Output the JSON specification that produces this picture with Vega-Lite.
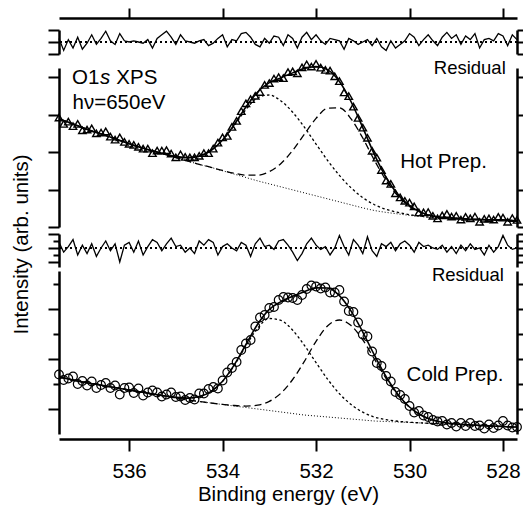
{
"$schema":"https://vega.github.io/schema/vega-lite/v6.json",
"padding":{"left":10,"top":7,"right":0,"bottom":0},
"background":"white",
"config":{"font":"Liberation Sans","view":{"stroke":null},
 "text":{"font":"Liberation Sans","color":"black"},
 "axis":{"domainColor":"black","tickColor":"black","labelColor":"black","titleColor":"black","grid":false,"domainWidth":2.5,"tickWidth":2,"labelFont":"Liberation Sans","titleFont":"Liberation Sans","titleFontWeight":"normal"}},
"datasets":{
"hotCurves":[
{"E":537.5,"bg":2.88,"c1":2.88,"c2":2.88,"fit":2.88},
{"E":537.25,"bg":2.77,"c1":2.77,"c2":2.77,"fit":2.77},
{"E":537.0,"bg":2.65,"c1":2.65,"c2":2.65,"fit":2.65},
{"E":536.75,"bg":2.54,"c1":2.54,"c2":2.54,"fit":2.54},
{"E":536.5,"bg":2.44,"c1":2.44,"c2":2.44,"fit":2.44},
{"E":536.25,"bg":2.33,"c1":2.33,"c2":2.33,"fit":2.33},
{"E":536.0,"bg":2.22,"c1":2.22,"c2":2.22,"fit":2.22},
{"E":535.75,"bg":2.12,"c1":2.12,"c2":2.12,"fit":2.12},
{"E":535.5,"bg":2.03,"c1":2.03,"c2":2.03,"fit":2.03},
{"E":535.25,"bg":1.94,"c1":1.95,"c2":1.94,"fit":1.95},
{"E":535.0,"bg":1.85,"c1":1.88,"c2":1.85,"fit":1.88},
{"E":534.75,"bg":1.76,"c1":1.85,"c2":1.76,"fit":1.85},
{"E":534.5,"bg":1.67,"c1":1.885,"c2":1.67,"fit":1.89},
{"E":534.25,"bg":1.59,"c1":2.036,"c2":1.592,"fit":2.04},
{"E":534.0,"bg":1.5,"c1":2.314,"c2":1.507,"fit":2.32},
{"E":533.75,"bg":1.41,"c1":2.708,"c2":1.433,"fit":2.73},
{"E":533.5,"bg":1.32,"c1":3.134,"c2":1.383,"fit":3.2},
{"E":533.25,"bg":1.23,"c1":3.446,"c2":1.382,"fit":3.6},
{"E":533.0,"bg":1.15,"c1":3.52,"c2":1.477,"fit":3.85},
{"E":532.75,"bg":1.07,"c1":3.361,"c2":1.693,"fit":3.98},
{"E":532.5,"bg":0.99,"c1":3.06,"c2":2.041,"fit":4.11},
{"E":532.25,"bg":0.91,"c1":2.662,"c2":2.473,"fit":4.23},
{"E":532.0,"bg":0.83,"c1":2.213,"c2":2.896,"fit":4.28},
{"E":531.75,"bg":0.75,"c1":1.771,"c2":3.167,"fit":4.19},
{"E":531.5,"bg":0.67,"c1":1.375,"c2":3.177,"fit":3.88},
{"E":531.25,"bg":0.59,"c1":1.044,"c2":2.884,"fit":3.34},
{"E":531.0,"bg":0.51,"c1":0.784,"c2":2.372,"fit":2.65},
{"E":530.75,"bg":0.44,"c1":0.594,"c2":1.777,"fit":1.93},
{"E":530.5,"bg":0.39,"c1":0.471,"c2":1.24,"fit":1.32},
{"E":530.25,"bg":0.35,"c1":0.39,"c2":0.831,"fit":0.87},
{"E":530.0,"bg":0.31,"c1":0.328,"c2":0.55,"fit":0.57},
{"E":529.75,"bg":0.28,"c1":0.288,"c2":0.386,"fit":0.39},
{"E":529.5,"bg":0.25,"c1":0.253,"c2":0.291,"fit":0.29},
{"E":529.25,"bg":0.24,"c1":0.24,"c2":0.254,"fit":0.25},
{"E":529.0,"bg":0.23,"c1":0.23,"c2":0.234,"fit":0.23},
{"E":528.75,"bg":0.21,"c1":0.21,"c2":0.21,"fit":0.21},
{"E":528.5,"bg":0.2,"c1":0.2,"c2":0.2,"fit":0.2},
{"E":528.25,"bg":0.19,"c1":0.19,"c2":0.19,"fit":0.19},
{"E":528.0,"bg":0.19,"c1":0.19,"c2":0.19,"fit":0.19},
{"E":527.75,"bg":0.17,"c1":0.17,"c2":0.17,"fit":0.17},
{"E":527.7,"bg":0.17,"c1":0.17,"c2":0.17,"fit":0.17}
],
"hotData":[
{"E":537.5,"I":2.92,"R":0.3},{"E":537.4,"I":2.75,"R":-0.7},{"E":537.3,"I":2.81,"R":0.2},{"E":537.2,"I":2.69,"R":-0.5},{"E":537.1,"I":2.75,"R":0.4},
{"E":537.0,"I":2.58,"R":-0.6},{"E":536.9,"I":2.6,"R":-0.1},{"E":536.8,"I":2.63,"R":0.6},{"E":536.7,"I":2.5,"R":-0.2},{"E":536.6,"I":2.52,"R":0.3},
{"E":536.5,"I":2.55,"R":0.9},{"E":536.4,"I":2.41,"R":0.1},{"E":536.3,"I":2.33,"R":-0.2},{"E":536.2,"I":2.39,"R":0.7},{"E":536.1,"I":2.27,"R":0.1},
{"E":536.0,"I":2.22,"R":0.0},{"E":535.9,"I":2.19,"R":0.1},{"E":535.8,"I":2.14,"R":0.0},{"E":535.7,"I":2.09,"R":-0.1},{"E":535.6,"I":2.09,"R":0.2},
{"E":535.5,"I":1.97,"R":-0.5},{"E":535.4,"I":2.04,"R":0.3},{"E":535.3,"I":2.04,"R":0.6},{"E":535.2,"I":2.05,"R":0.9},{"E":535.1,"I":1.96,"R":0.4},
{"E":535.0,"I":1.86,"R":-0.2},{"E":534.9,"I":1.94,"R":0.6},{"E":534.8,"I":1.87,"R":0.1},{"E":534.7,"I":1.86,"R":0.0},{"E":534.6,"I":1.86,"R":-0.1},
{"E":534.5,"I":1.9,"R":0.1},{"E":534.4,"I":1.97,"R":0.2},{"E":534.3,"I":1.97,"R":-0.3},{"E":534.2,"I":2.09,"R":-0.1},{"E":534.1,"I":2.25,"R":0.3},
{"E":534.0,"I":2.39,"R":0.6},{"E":533.9,"I":2.43,"R":-0.4},{"E":533.8,"I":2.67,"R":0.2},{"E":533.7,"I":2.83,"R":0.1},{"E":533.6,"I":3.09,"R":0.7},
{"E":533.5,"I":3.3,"R":0.8},{"E":533.4,"I":3.41,"R":0.4},{"E":533.3,"I":3.5,"R":-0.2},{"E":533.2,"I":3.6,"R":-0.4},{"E":533.1,"I":3.79,"R":0.3},
{"E":533.0,"I":3.84,"R":-0.1},{"E":532.9,"I":3.96,"R":0.5},{"E":532.8,"I":4.0,"R":0.4},{"E":532.7,"I":3.97,"R":-0.3},{"E":532.6,"I":4.13,"R":0.6},
{"E":532.5,"I":4.15,"R":0.3},{"E":532.4,"I":4.1,"R":-0.5},{"E":532.3,"I":4.26,"R":0.4},{"E":532.2,"I":4.34,"R":0.8},{"E":532.1,"I":4.28,"R":0.2},
{"E":532.0,"I":4.35,"R":0.6},{"E":531.9,"I":4.25,"R":0.1},{"E":531.8,"I":4.19,"R":-0.2},{"E":531.7,"I":4.17,"R":0.3},{"E":531.6,"I":4.02,"R":0.2},
{"E":531.5,"I":3.89,"R":0.1},{"E":531.4,"I":3.59,"R":-0.6},{"E":531.3,"I":3.49,"R":0.3},{"E":531.2,"I":3.21,"R":0.1},{"E":531.1,"I":2.91,"R":-0.2},
{"E":531.0,"I":2.65,"R":0.0},{"E":530.9,"I":2.38,"R":0.2},{"E":530.8,"I":2.03,"R":-0.3},{"E":530.7,"I":1.85,"R":0.3},{"E":530.6,"I":1.52,"R":-0.4},
{"E":530.5,"I":1.24,"R":-0.7},{"E":530.4,"I":1.15,"R":0.1},{"E":530.3,"I":0.9,"R":-0.5},{"E":530.2,"I":0.79,"R":-0.2},{"E":530.1,"I":0.7,"R":0.1},
{"E":530.0,"I":0.65,"R":0.7},{"E":529.9,"I":0.55,"R":0.4},{"E":529.8,"I":0.39,"R":-0.3},{"E":529.7,"I":0.39,"R":0.2},{"E":529.6,"I":0.4,"R":0.6},
{"E":529.5,"I":0.3,"R":0.1},{"E":529.4,"I":0.23,"R":-0.3},{"E":529.3,"I":0.31,"R":0.4},{"E":529.2,"I":0.35,"R":0.8},{"E":529.1,"I":0.28,"R":0.3},
{"E":529.0,"I":0.3,"R":0.6},{"E":528.9,"I":0.2,"R":-0.2},{"E":528.8,"I":0.27,"R":0.5},{"E":528.7,"I":0.23,"R":0.2},{"E":528.6,"I":0.28,"R":0.7},
{"E":528.5,"I":0.14,"R":-0.5},{"E":528.4,"I":0.22,"R":0.2},{"E":528.3,"I":0.23,"R":0.3},{"E":528.2,"I":0.2,"R":0.1},{"E":528.1,"I":0.27,"R":0.7},
{"E":528.0,"I":0.25,"R":0.5},{"E":527.9,"I":0.14,"R":-0.3},{"E":527.8,"I":0.24,"R":0.6},{"E":527.7,"I":0.19,"R":0.2}
],
"coldCurves":[
{"E":537.5,"bg":0.64,"c1":0.64,"c2":0.64,"fit":0.64},
{"E":537.25,"bg":0.59,"c1":0.59,"c2":0.59,"fit":0.59},
{"E":537.0,"bg":0.54,"c1":0.54,"c2":0.54,"fit":0.54},
{"E":536.75,"bg":0.5,"c1":0.5,"c2":0.5,"fit":0.5},
{"E":536.5,"bg":0.46,"c1":0.46,"c2":0.46,"fit":0.46},
{"E":536.25,"bg":0.42,"c1":0.42,"c2":0.42,"fit":0.42},
{"E":536.0,"bg":0.38,"c1":0.38,"c2":0.38,"fit":0.38},
{"E":535.75,"bg":0.34,"c1":0.34,"c2":0.34,"fit":0.34},
{"E":535.5,"bg":0.3,"c1":0.3,"c2":0.3,"fit":0.3},
{"E":535.25,"bg":0.26,"c1":0.263,"c2":0.26,"fit":0.263},
{"E":535.0,"bg":0.22,"c1":0.232,"c2":0.22,"fit":0.232},
{"E":534.75,"bg":0.18,"c1":0.217,"c2":0.18,"fit":0.217},
{"E":534.5,"bg":0.15,"c1":0.249,"c2":0.15,"fit":0.249},
{"E":534.25,"bg":0.12,"c1":0.349,"c2":0.12,"fit":0.349},
{"E":534.0,"bg":0.09,"c1":0.553,"c2":0.093,"fit":0.556},
{"E":533.75,"bg":0.06,"c1":0.872,"c2":0.07,"fit":0.882},
{"E":533.5,"bg":0.03,"c1":1.261,"c2":0.059,"fit":1.29},
{"E":533.25,"bg":0.0,"c1":1.617,"c2":0.078,"fit":1.695},
{"E":533.0,"bg":-0.03,"c1":1.81,"c2":0.153,"fit":1.993},
{"E":532.75,"bg":-0.06,"c1":1.771,"c2":0.317,"fit":2.148},
{"E":532.5,"bg":-0.09,"c1":1.576,"c2":0.59,"fit":2.256},
{"E":532.25,"bg":-0.12,"c1":1.274,"c2":0.953,"fit":2.347},
{"E":532.0,"bg":-0.14,"c1":0.929,"c2":1.354,"fit":2.423},
{"E":531.75,"bg":-0.16,"c1":0.593,"c2":1.667,"fit":2.42},
{"E":531.5,"bg":-0.18,"c1":0.307,"c2":1.78,"fit":2.267},
{"E":531.25,"bg":-0.2,"c1":0.089,"c2":1.668,"fit":1.957},
{"E":531.0,"bg":-0.22,"c1":-0.063,"c2":1.382,"fit":1.539},
{"E":530.75,"bg":-0.24,"c1":-0.161,"c2":0.997,"fit":1.076},
{"E":530.5,"bg":-0.25,"c1":-0.214,"c2":0.609,"fit":0.645},
{"E":530.25,"bg":-0.26,"c1":-0.245,"c2":0.28,"fit":0.295},
{"E":530.0,"bg":-0.27,"c1":-0.264,"c2":0.034,"fit":0.04},
{"E":529.75,"bg":-0.28,"c1":-0.278,"c2":-0.126,"fit":-0.124},
{"E":529.5,"bg":-0.29,"c1":-0.29,"c2":-0.22,"fit":-0.22},
{"E":529.25,"bg":-0.3,"c1":-0.3,"c2":-0.271,"fit":-0.271},
{"E":529.0,"bg":-0.31,"c1":-0.31,"c2":-0.299,"fit":-0.299},
{"E":528.75,"bg":-0.32,"c1":-0.32,"c2":-0.316,"fit":-0.316},
{"E":528.5,"bg":-0.33,"c1":-0.33,"c2":-0.33,"fit":-0.33},
{"E":528.25,"bg":-0.34,"c1":-0.34,"c2":-0.34,"fit":-0.34},
{"E":528.0,"bg":-0.35,"c1":-0.35,"c2":-0.35,"fit":-0.35},
{"E":527.75,"bg":-0.36,"c1":-0.36,"c2":-0.36,"fit":-0.36},
{"E":527.7,"bg":-0.36,"c1":-0.36,"c2":-0.36,"fit":-0.36}
],
"coldData":[
{"E":537.5,"I":0.69,"R":0.4},{"E":537.4,"I":0.58,"R":-0.3},{"E":537.3,"I":0.61,"R":0.1},{"E":537.2,"I":0.65,"R":0.6},{"E":537.1,"I":0.5,"R":-0.5},
{"E":537.0,"I":0.56,"R":0.2},{"E":536.9,"I":0.47,"R":-0.4},{"E":536.8,"I":0.55,"R":0.3},{"E":536.7,"I":0.42,"R":-0.6},{"E":536.6,"I":0.48,"R":0.0},
{"E":536.5,"I":0.52,"R":0.5},{"E":536.4,"I":0.42,"R":-0.2},{"E":536.3,"I":0.47,"R":0.3},{"E":536.2,"I":0.29,"R":-1.0},{"E":536.1,"I":0.42,"R":0.2},
{"E":536.0,"I":0.43,"R":0.4},{"E":535.9,"I":0.32,"R":-0.3},{"E":535.8,"I":0.41,"R":0.5},{"E":535.7,"I":0.27,"R":-0.5},{"E":535.6,"I":0.33,"R":0.1},
{"E":535.5,"I":0.37,"R":0.6},{"E":535.4,"I":0.33,"R":0.4},{"E":535.3,"I":0.25,"R":-0.2},{"E":535.2,"I":0.29,"R":0.3},{"E":535.1,"I":0.33,"R":0.7},
{"E":535.0,"I":0.24,"R":0.1},{"E":534.9,"I":0.25,"R":0.2},{"E":534.8,"I":0.18,"R":-0.3},{"E":534.7,"I":0.22,"R":0.0},{"E":534.6,"I":0.19,"R":-0.4},
{"E":534.5,"I":0.31,"R":0.5},{"E":534.4,"I":0.31,"R":0.2},{"E":534.3,"I":0.4,"R":0.6},{"E":534.2,"I":0.44,"R":0.4},{"E":534.1,"I":0.41,"R":-0.5},
{"E":534.0,"I":0.57,"R":0.1},{"E":533.9,"I":0.73,"R":0.3},{"E":533.8,"I":0.82,"R":0.0},{"E":533.7,"I":0.94,"R":-0.2},{"E":533.6,"I":1.18,"R":0.4},
{"E":533.5,"I":1.31,"R":0.2},{"E":533.4,"I":1.38,"R":-0.6},{"E":533.3,"I":1.65,"R":0.3},{"E":533.2,"I":1.83,"R":0.7},{"E":533.1,"I":1.88,"R":0.1},
{"E":533.0,"I":2.02,"R":0.2},{"E":532.9,"I":2.04,"R":-0.1},{"E":532.8,"I":2.18,"R":0.5},{"E":532.7,"I":2.24,"R":0.6},{"E":532.6,"I":2.23,"R":0.2},
{"E":532.5,"I":2.22,"R":-0.3},{"E":532.4,"I":2.18,"R":-0.9},{"E":532.3,"I":2.28,"R":-0.4},{"E":532.2,"I":2.4,"R":0.3},{"E":532.1,"I":2.47,"R":0.7},
{"E":532.0,"I":2.45,"R":0.2},{"E":531.9,"I":2.41,"R":-0.1},{"E":531.8,"I":2.43,"R":0.1},{"E":531.7,"I":2.33,"R":-0.5},{"E":531.6,"I":2.33,"R":0.0},
{"E":531.5,"I":2.38,"R":0.9},{"E":531.4,"I":2.15,"R":0.1},{"E":531.3,"I":1.96,"R":-0.5},{"E":531.2,"I":1.94,"R":0.6},{"E":531.1,"I":1.73,"R":0.2},
{"E":531.0,"I":1.49,"R":-0.4},{"E":530.9,"I":1.45,"R":0.8},{"E":530.8,"I":1.15,"R":-0.2},{"E":530.7,"I":0.92,"R":-0.6},{"E":530.6,"I":0.86,"R":0.3},
{"E":530.5,"I":0.66,"R":0.1},{"E":530.4,"I":0.55,"R":0.4},{"E":530.3,"I":0.34,"R":-0.2},{"E":530.2,"I":0.28,"R":0.3},{"E":530.1,"I":0.2,"R":0.5},
{"E":530.0,"I":0.06,"R":0.2},{"E":529.9,"I":-0.07,"R":-0.3},{"E":529.8,"I":-0.04,"R":0.4},{"E":529.7,"I":-0.13,"R":0.1},{"E":529.6,"I":-0.16,"R":0.2},
{"E":529.5,"I":-0.22,"R":0.0},{"E":529.4,"I":-0.25,"R":-0.1},{"E":529.3,"I":-0.24,"R":0.2},{"E":529.2,"I":-0.31,"R":-0.3},{"E":529.1,"I":-0.28,"R":0.1},
{"E":529.0,"I":-0.35,"R":-0.4},{"E":528.9,"I":-0.28,"R":0.2},{"E":528.8,"I":-0.34,"R":-0.2},{"E":528.7,"I":-0.28,"R":0.3},{"E":528.6,"I":-0.34,"R":-0.1},
{"E":528.5,"I":-0.33,"R":0.0},{"E":528.4,"I":-0.39,"R":-0.5},{"E":528.3,"I":-0.31,"R":0.2},{"E":528.2,"I":-0.38,"R":-0.3},{"E":528.1,"I":-0.33,"R":0.1},
{"E":528.0,"I":-0.24,"R":0.9},{"E":527.9,"I":-0.33,"R":0.2},{"E":527.8,"I":-0.37,"R":-0.1},{"E":527.7,"I":-0.36,"R":0.0}
]
},
"bounds":"flush",
"spacing":0,
"vconcat":[
 {"width":458,"height":24,
  "layer":[
   {"data":{"values":[{}]},"mark":{"type":"rule","color":"black","strokeWidth":2,"strokeDash":[2,3]},
    "encoding":{"y":{"datum":0,"type":"quantitative","scale":{"domain":[-1,1],"nice":false,"zero":false},
     "axis":{"orient":"left","values":[-1,0,1],"labels":false,"tickSize":11,"title":null}}}},
   {"data":{"name":"hotData"},"mark":{"type":"line","color":"black","strokeWidth":1.3},
    "encoding":{"x":{"field":"E","type":"quantitative","scale":{"domain":[527.7,537.5],"reverse":true,"nice":false,"zero":false},
      "axis":{"orient":"top","offset":12,"values":[528,530,532,534,536],"labels":false,"tickSize":10,"title":null}},
     "y":{"field":"R","type":"quantitative","axis":{"orient":"right","values":[-1,0,1],"labels":false,"tickSize":11,"title":null}}}}
  ],
  "resolve":{"axis":{"y":"independent"}}},
 {"width":458,"height":14,"data":{"values":[{}]},"mark":{"type":"point","opacity":0},"encoding":{}},
 {"width":458,"height":159,
  "layer":[
   {"data":{"name":"hotCurves"},"mark":{"type":"line","color":"black","strokeWidth":1,"strokeDash":[1,2],"interpolate":"monotone"},
    "encoding":{"x":{"field":"E","type":"quantitative","scale":{"domain":[527.7,537.5],"reverse":true,"nice":false,"zero":false},"axis":null},
     "y":{"field":"bg","type":"quantitative","scale":{"domain":[0,4.24],"nice":false,"zero":false},
     "axis":{"orient":"left","values":[0,1,2,3,4],"labels":false,"tickSize":11,"title":null}}}},
   {"data":{"name":"hotCurves"},"mark":{"type":"line","color":"black","strokeWidth":1.3,"strokeDash":[2.5,2.5],"interpolate":"monotone"},
    "encoding":{"x":{"field":"E","type":"quantitative","axis":null},"y":{"field":"c1","type":"quantitative","axis":null}}},
   {"data":{"name":"hotCurves"},"mark":{"type":"line","color":"black","strokeWidth":1.3,"strokeDash":[7,4],"interpolate":"monotone"},
    "encoding":{"x":{"field":"E","type":"quantitative","axis":null},"y":{"field":"c2","type":"quantitative","axis":null}}},
   {"data":{"name":"hotCurves"},"mark":{"type":"line","color":"black","strokeWidth":1.6,"interpolate":"monotone"},
    "encoding":{"x":{"field":"E","type":"quantitative","axis":null},"y":{"field":"fit","type":"quantitative","axis":{"orient":"right","values":[0,1,2,3,4],"labels":false,"tickSize":11,"title":null}}}},
   {"data":{"name":"hotData"},"mark":{"type":"point","shape":"triangle-up","filled":false,"color":"black","size":55,"strokeWidth":1.4,"opacity":1},
    "encoding":{"x":{"field":"E","type":"quantitative","axis":null},"y":{"field":"I","type":"quantitative","axis":null}}},
   {"data":{"values":[{"t":"O1"}]},"mark":{"type":"text","align":"left","baseline":"alphabetic","fontSize":20.5},
    "encoding":{"x":{"datum":537.22,"type":"quantitative","axis":null},"y":{"datum":3.81,"type":"quantitative","axis":null},"text":{"field":"t"}}},
   {"data":{"values":[{"t":"s"}]},"mark":{"type":"text","align":"left","baseline":"alphabetic","fontSize":20.5,"fontStyle":"italic"},
    "encoding":{"x":{"datum":536.623,"type":"quantitative","axis":null},"y":{"datum":3.81,"type":"quantitative","axis":null},"text":{"field":"t"}}},
   {"data":{"values":[{"t":"XPS"}]},"mark":{"type":"text","align":"left","baseline":"alphabetic","fontSize":20.5},
    "encoding":{"x":{"datum":536.274,"type":"quantitative","axis":null},"y":{"datum":3.81,"type":"quantitative","axis":null},"text":{"field":"t"}}},
   {"data":{"values":[{"t":"hν=650eV"}]},"mark":{"type":"text","align":"left","baseline":"alphabetic","fontSize":20.5},
    "encoding":{"x":{"datum":537.21,"type":"quantitative","axis":null},"y":{"datum":3.14,"type":"quantitative","axis":null},"text":{"field":"t"}}},
   {"data":{"values":[{"t":"Residual"}]},"mark":{"type":"text","align":"right","baseline":"alphabetic","fontSize":18.5},
    "encoding":{"x":{"datum":527.94,"type":"quantitative","axis":null},"y":{"datum":4.09,"type":"quantitative","axis":null},"text":{"field":"t"}}},
   {"data":{"values":[{"t":"Hot Prep."}]},"mark":{"type":"text","align":"right","baseline":"alphabetic","fontSize":20.5},
    "encoding":{"x":{"datum":528.345,"type":"quantitative","axis":null},"y":{"datum":1.58,"type":"quantitative","axis":null},"text":{"field":"t"}}}
  ],
  "resolve":{"axis":{"y":"independent"}}},
 {"width":458,"height":7,"data":{"values":[{}]},"mark":{"type":"point","opacity":0},"encoding":{}},
 {"width":458,"height":33,
  "layer":[
   {"data":{"values":[{}]},"mark":{"type":"rule","color":"black","strokeWidth":2,"strokeDash":[2,3]},
    "encoding":{"y":{"datum":0,"type":"quantitative","scale":{"domain":[-1.36,1],"nice":false,"zero":false},
     "axis":{"orient":"left","values":[-1,-0.5,0,0.5,1],"labels":false,"tickSize":{"condition":{"test":"datum.value % 1 === 0","value":11},"value":6},
      "title":"Intensity (arb. units)","titleFontSize":20.5,"titlePadding":16,"titleY":10}}}},
   {"data":{"name":"coldData"},"mark":{"type":"line","color":"black","strokeWidth":1.3},
    "encoding":{"x":{"field":"E","type":"quantitative","scale":{"domain":[527.7,537.5],"reverse":true,"nice":false,"zero":false},"axis":null},
     "y":{"field":"R","type":"quantitative","axis":{"orient":"right","values":[-1,-0.5,0,0.5,1],"labels":false,"tickSize":{"condition":{"test":"datum.value % 1 === 0","value":11},"value":6},"title":null}}}}
  ],
  "resolve":{"axis":{"y":"independent"}}},
 {"width":458,"height":4,"data":{"values":[{}]},"mark":{"type":"point","opacity":0},"encoding":{}},
 {"width":458,"height":163,
  "layer":[
   {"data":{"name":"coldCurves"},"mark":{"type":"line","color":"black","strokeWidth":1,"strokeDash":[1,2],"interpolate":"monotone"},
    "encoding":{"x":{"field":"E","type":"quantitative","scale":{"domain":[527.7,537.5],"reverse":true,"nice":false,"zero":false},
      "axis":{"orient":"bottom","offset":5,"values":[528,530,532,534,536],"format":"d","tickSize":12,"labelFontSize":20.5,"labelPadding":10,
       "title":"Binding energy (eV)","titleFontSize":20.5,"titlePadding":3}},
     "y":{"field":"bg","type":"quantitative","scale":{"domain":[-0.5,2.76],"nice":false,"zero":false},
     "axis":{"orient":"left","values":[0,0.5,1,1.5,2,2.5],"labels":false,"tickSize":{"condition":{"test":"datum.value % 1 === 0","value":11},"value":6},"title":null}}}},
   {"data":{"name":"coldCurves"},"mark":{"type":"line","color":"black","strokeWidth":1.3,"strokeDash":[2.5,2.5],"interpolate":"monotone"},
    "encoding":{"x":{"field":"E","type":"quantitative"},"y":{"field":"c1","type":"quantitative","axis":null}}},
   {"data":{"name":"coldCurves"},"mark":{"type":"line","color":"black","strokeWidth":1.3,"strokeDash":[7,4],"interpolate":"monotone"},
    "encoding":{"x":{"field":"E","type":"quantitative"},"y":{"field":"c2","type":"quantitative","axis":null}}},
   {"data":{"name":"coldCurves"},"mark":{"type":"line","color":"black","strokeWidth":1.6,"interpolate":"monotone"},
    "encoding":{"x":{"field":"E","type":"quantitative"},
     "y":{"field":"fit","type":"quantitative","axis":{"orient":"right","values":[0,0.5,1,1.5,2,2.5],"labels":false,"tickSize":{"condition":{"test":"datum.value % 1 === 0","value":11},"value":6},"title":null}}}},
   {"data":{"name":"coldData"},"mark":{"type":"point","shape":"circle","filled":false,"color":"black","size":75,"strokeWidth":1.2,"opacity":1},
    "encoding":{"x":{"field":"E","type":"quantitative"},"y":{"field":"I","type":"quantitative","axis":null}}},
   {"data":{"values":[{"t":"Residual"}]},"mark":{"type":"text","align":"right","baseline":"alphabetic","fontSize":18.5},
    "encoding":{"x":{"datum":527.98,"type":"quantitative"},"y":{"datum":2.56,"type":"quantitative","axis":null},"text":{"field":"t"}}},
   {"data":{"values":[{"t":"Cold Prep."}]},"mark":{"type":"text","align":"right","baseline":"alphabetic","fontSize":20.5},
    "encoding":{"x":{"datum":527.99,"type":"quantitative"},"y":{"datum":0.56,"type":"quantitative","axis":null},"text":{"field":"t"}}}
  ],
  "resolve":{"axis":{"y":"independent"}}}
]
}
